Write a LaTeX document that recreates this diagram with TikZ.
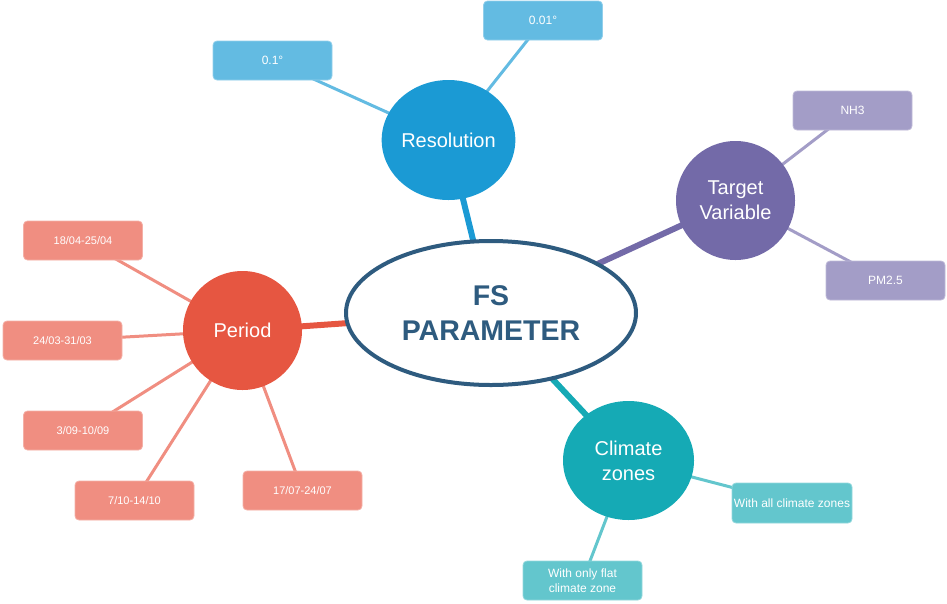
\documentclass[tikz,border=0pt]{standalone}
\usepackage{fontspec}
\setmainfont{Liberation Sans}
\usetikzlibrary{shapes.geometric,backgrounds}
\definecolor{hub}{HTML}{2E5B7F}
\definecolor{resC}{HTML}{1B9AD4}
\definecolor{resL}{HTML}{63BBE2}
\definecolor{tarC}{HTML}{736AA8}
\definecolor{tarL}{HTML}{A39DC7}
\definecolor{perC}{HTML}{E65641}
\definecolor{perL}{HTML}{F08E81}
\definecolor{cliC}{HTML}{15AAB5}
\definecolor{cliL}{HTML}{63C6CD}
\begin{document}
\begin{tikzpicture}[x=1pt,y=-1pt,
  hubnode/.style={ellipse, draw=hub, line width=4pt, fill=white,
    minimum width=290pt, minimum height=144pt, inner sep=0pt, text=hub,
    font=\fontsize{28.5}{35}\selectfont\bfseries, align=center},
  topic/.style={ellipse, inner sep=0pt, text=white,
    font=\fontsize{20}{25}\selectfont, align=center},
  leaf/.style={rectangle, rounded corners=4pt, minimum width=119pt, minimum height=39pt,
    inner sep=0pt, text=white, font=\fontsize{12}{14.5}\selectfont, align=center,
    line width=0.8pt},
  dateleaf/.style={leaf, font=\fontsize{11}{13}\selectfont},
  thick link/.style={line width=6pt},
  thin link/.style={line width=3pt}]
\useasboundingbox (0,0) rectangle (947,603);

% hub
\node[hubnode] (hub) at (491,313) {FS\\PARAMETER};

% topics
\node[topic, fill=resC, minimum width=131pt, minimum height=120pt] (res) at (448.5,140) {Resolution};
\node[topic, fill=tarC, minimum width=119pt, minimum height=119pt] (tar) at (735.5,200.5) {Target\\Variable};
\node[topic, fill=perC, minimum width=119pt, minimum height=119pt] (per) at (242.5,330.5) {Period};
\node[topic, fill=cliC, minimum width=131pt, minimum height=119pt] (cli) at (628.5,460.5) {Climate\\zones};

% leaves
\node[leaf, fill=resL, draw=resL!70!white] (r1) at (272.5,60.5) {0.1°};
\node[leaf, fill=resL, draw=resL!70!white] (r2) at (543,20.5) {0.01°};
\node[leaf, fill=tarL, draw=tarL!70!white] (t1) at (852.5,110.5) {NH3};
\node[leaf, fill=tarL, draw=tarL!70!white] (t2) at (885.5,280.5) {PM2.5};
\node[dateleaf, fill=perL, draw=perL!70!white] (p1) at (83,240.5) {18/04-25/04};
\node[dateleaf, fill=perL, draw=perL!70!white] (p2) at (62.5,340.5) {24/03-31/03};
\node[dateleaf, fill=perL, draw=perL!70!white] (p3) at (83,430.5) {3/09-10/09};
\node[dateleaf, fill=perL, draw=perL!70!white] (p4) at (134.5,500.5) {7/10-14/10};
\node[dateleaf, fill=perL, draw=perL!70!white] (p5) at (302.5,490.5) {17/07-24/07};
\node[leaf, fill=cliL, draw=cliL!70!white, minimum width=120pt, minimum height=40pt] (c1) at (792,503) {With all climate zones};
\node[leaf, fill=cliL, draw=cliL!70!white] (c2) at (582.5,580.5) {With only flat\\climate zone};

% connectors
\begin{pgfonlayer}{background}
\draw[thick link, resC] (hub.center) -- (res.center);
\draw[thick link, tarC] (hub.center) -- (tar.center);
\draw[thick link, perC] (hub.center) -- (per.center);
\draw[thick link, cliC] (hub.center) -- (cli.center);
\draw[thin link, resL] (res.center) -- (r1.center);
\draw[thin link, resL] (res.center) -- (r2.center);
\draw[thin link, tarL] (tar.center) -- (t1.center);
\draw[thin link, tarL] (tar.center) -- (t2.center);
\draw[thin link, perL] (per.center) -- (p1.center);
\draw[thin link, perL] (per.center) -- (p2.center);
\draw[thin link, perL] (per.center) -- (p3.center);
\draw[thin link, perL] (per.center) -- (p4.center);
\draw[thin link, perL] (per.center) -- (p5.center);
\draw[thin link, cliL] (cli.center) -- (c1.center);
\draw[thin link, cliL] (cli.center) -- (c2.center);
\end{pgfonlayer}
\end{tikzpicture}
\end{document}
